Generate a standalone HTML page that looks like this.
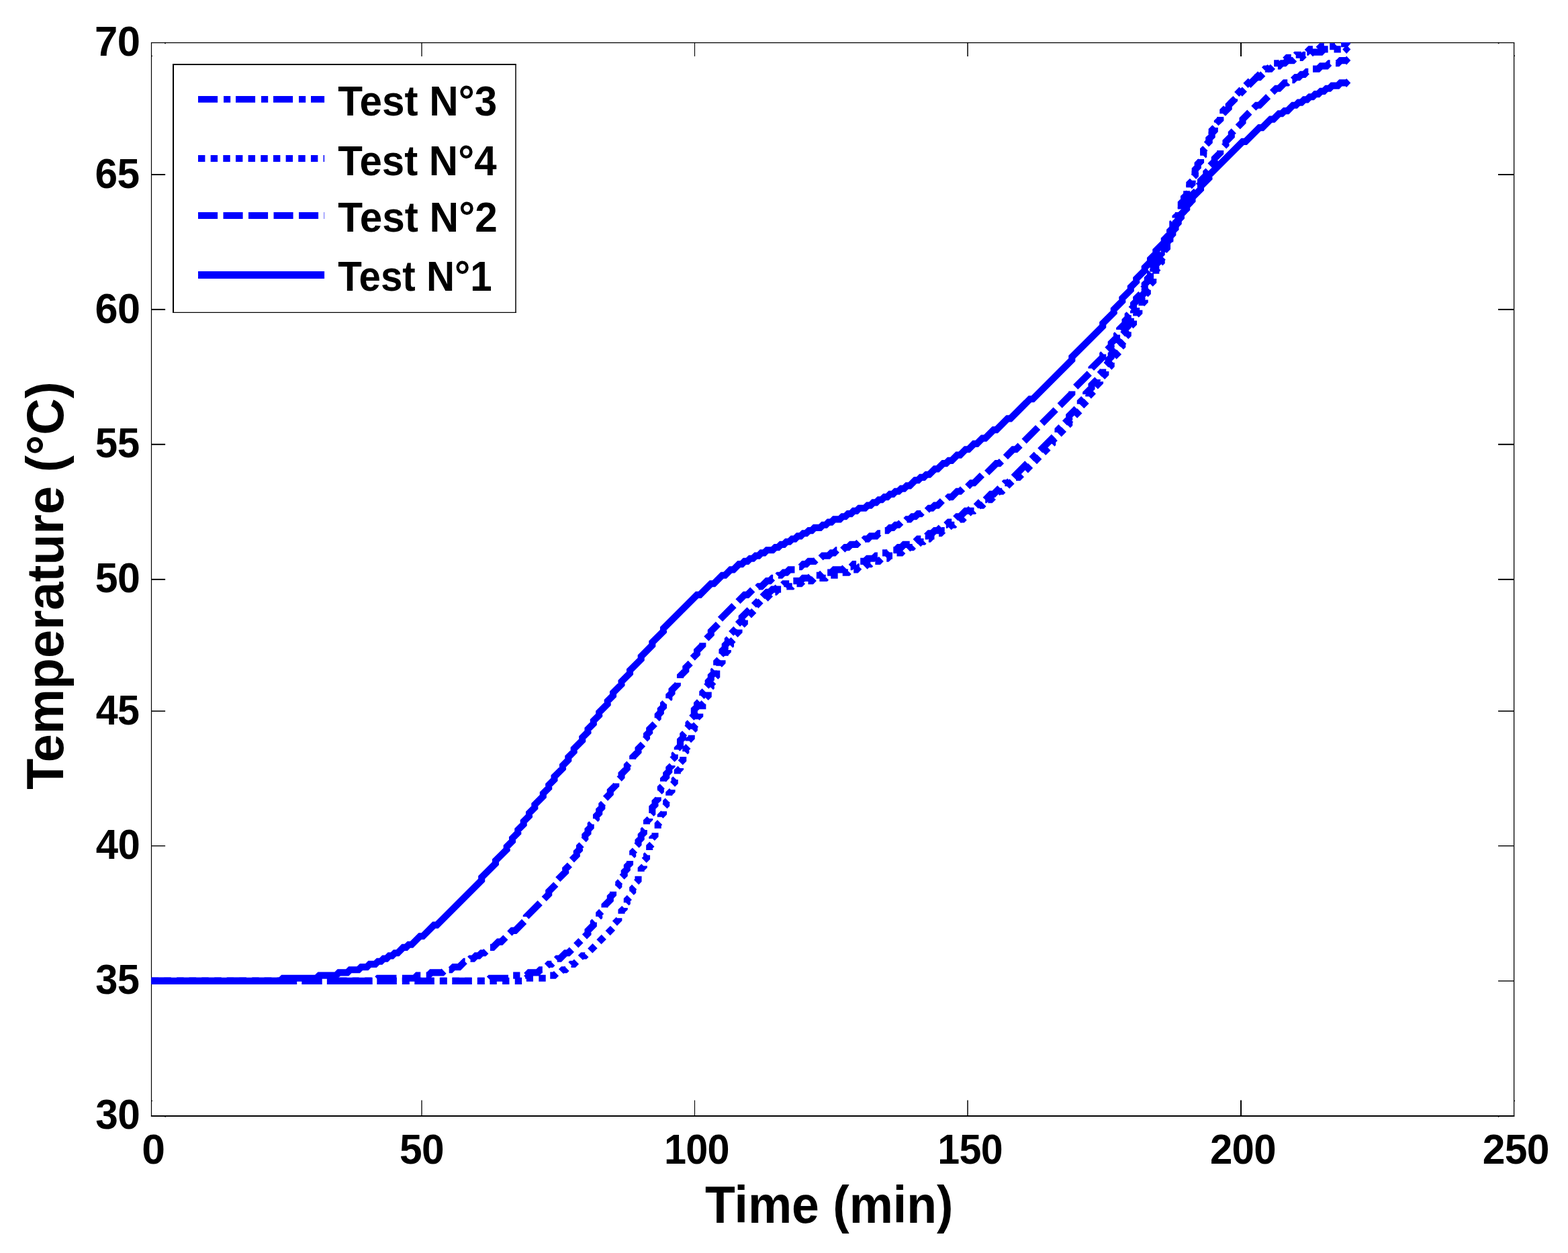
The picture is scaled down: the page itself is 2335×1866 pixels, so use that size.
<!DOCTYPE html>
<html lang="en"><head><meta charset="utf-8"><title>Temperature vs Time</title>
<style>
html,body{margin:0;padding:0;background:#fff;}
body{width:2335px;height:1866px;overflow:hidden;}
svg{display:block;position:absolute;left:0;top:0;}
text{font-family:"Liberation Sans",Arial,Helvetica,sans-serif;font-weight:bold;fill:#000;}
.cv{stroke:#0000ff;fill:none;stroke-width:10.1;stroke-linejoin:miter;stroke-linecap:butt;}
</style></head><body>
<svg width="2335" height="1866" viewBox="0 0 2335 1866">
<rect x="0" y="0" width="2335" height="1866" fill="#ffffff"/>
<defs><clipPath id="clip"><rect x="224.9" y="62.9" width="2030.3" height="1600.0"/></clipPath></defs>
<g stroke="#000" fill="none">
<line x1="224.90" y1="63.60" x2="2255.25" y2="63.60" stroke-width="1.3"/>
<line x1="224.90" y1="1661.90" x2="2255.25" y2="1661.90" stroke-width="2"/>
<line x1="225.50" y1="63.60" x2="225.50" y2="1662.90" stroke-width="1.2"/>
<line x1="2254.60" y1="63.60" x2="2254.60" y2="1662.90" stroke-width="1.3"/>
<line x1="628.00" y1="1661.90" x2="628.00" y2="1638.50" stroke-width="1.3"/>
<line x1="628.00" y1="63.60" x2="628.00" y2="83.90" stroke-width="1.3"/>
<line x1="1034.50" y1="1661.90" x2="1034.50" y2="1638.50" stroke-width="1.1"/>
<line x1="1034.50" y1="63.60" x2="1034.50" y2="83.90" stroke-width="1.1"/>
<line x1="1441.00" y1="1661.90" x2="1441.00" y2="1638.50" stroke-width="1.5"/>
<line x1="1441.00" y1="63.60" x2="1441.00" y2="83.90" stroke-width="1.5"/>
<line x1="1848.00" y1="1661.90" x2="1848.00" y2="1638.50" stroke-width="2"/>
<line x1="1848.00" y1="63.60" x2="1848.00" y2="83.90" stroke-width="2"/>
<line x1="225.50" y1="260.00" x2="246.10" y2="260.00" stroke-width="2"/>
<line x1="2254.60" y1="260.00" x2="2231.00" y2="260.00" stroke-width="2"/>
<line x1="225.50" y1="460.90" x2="246.10" y2="460.90" stroke-width="2"/>
<line x1="2254.60" y1="460.90" x2="2231.00" y2="460.90" stroke-width="2"/>
<line x1="225.50" y1="661.80" x2="246.10" y2="661.80" stroke-width="2"/>
<line x1="2254.60" y1="661.80" x2="2231.00" y2="661.80" stroke-width="2"/>
<line x1="225.50" y1="862.90" x2="246.10" y2="862.90" stroke-width="2"/>
<line x1="2254.60" y1="862.90" x2="2231.00" y2="862.90" stroke-width="2"/>
<line x1="225.50" y1="1059.00" x2="246.10" y2="1059.00" stroke-width="1.6"/>
<line x1="2254.60" y1="1059.00" x2="2231.00" y2="1059.00" stroke-width="1.6"/>
<line x1="225.50" y1="1259.70" x2="246.10" y2="1259.70" stroke-width="1.4"/>
<line x1="2254.60" y1="1259.70" x2="2231.00" y2="1259.70" stroke-width="1.4"/>
<line x1="225.50" y1="1460.90" x2="246.10" y2="1460.90" stroke-width="1.4"/>
<line x1="2254.60" y1="1460.90" x2="2231.00" y2="1460.90" stroke-width="1.4"/>
</g>
<g fill="#000">
<rect x="245.20" y="63.60" width="1.6" height="1.6"/>
<rect x="225.20" y="82.60" width="1.6" height="1.6"/>
<rect x="2230.80" y="63.60" width="1.6" height="1.6"/>
<rect x="2254.30" y="82.30" width="1.6" height="1.6"/>
<rect x="245.20" y="1662.10" width="1.6" height="1.6"/>
<rect x="225.20" y="1638.60" width="1.6" height="1.6"/>
<rect x="2230.80" y="1662.10" width="1.6" height="1.6"/>
<rect x="2254.30" y="1638.60" width="1.6" height="1.6"/>
</g>
<g clip-path="url(#clip)">
<path class="cv" d="M225.6 1460.9 L725.5 1460.9 L729.7 1456.7 L758.8 1456.7 L763.0 1452.6 L783.8 1452.6 L788.0 1448.4 L800.5 1448.4 L804.7 1444.2 L808.8 1444.2 L817.2 1435.9 L821.3 1435.9 L829.7 1427.6 L833.8 1427.6 L842.2 1419.2 L846.3 1419.2 L875.5 1390.1 L875.5 1385.9 L883.8 1377.6 L883.8 1373.4 L892.2 1365.1 L892.2 1360.9 L900.5 1352.6 L900.5 1348.4 L908.8 1340.1 L908.8 1335.9 L913.0 1331.7 L913.0 1327.6 L921.3 1319.2 L921.3 1315.1 L925.5 1310.9 L925.5 1306.7 L929.7 1302.6 L929.7 1298.4 L933.8 1294.2 L933.8 1290.1 L938.0 1285.9 L938.0 1277.6 L942.2 1273.4 L942.2 1269.2 L946.3 1265.1 L946.3 1260.9 L950.5 1256.7 L950.5 1252.6 L954.7 1248.4 L954.7 1244.2 L958.8 1240.1 L958.8 1235.9 L963.0 1231.7 L963.0 1223.4 L967.2 1219.2 L967.2 1215.1 L971.3 1210.9 L971.3 1202.6 L975.5 1198.4 L975.5 1194.2 L979.7 1190.1 L979.7 1181.7 L983.8 1177.6 L983.8 1173.4 L988.0 1169.2 L988.0 1160.9 L992.2 1156.7 L992.2 1152.6 L996.3 1148.4 L996.3 1144.2 L1000.5 1140.1 L1000.5 1131.7 L1004.7 1127.6 L1004.7 1123.4 L1008.8 1119.2 L1008.8 1115.1 L1013.0 1110.9 L1013.0 1102.6 L1017.2 1098.4 L1017.2 1094.2 L1021.3 1090.1 L1021.3 1085.9 L1025.5 1081.7 L1025.5 1077.6 L1029.7 1073.4 L1029.7 1069.2 L1033.8 1065.1 L1033.8 1056.7 L1038.0 1052.6 L1038.0 1048.4 L1042.2 1044.2 L1042.2 1040.1 L1046.3 1035.9 L1046.3 1031.7 L1050.5 1027.6 L1050.5 1023.4 L1054.7 1019.2 L1054.7 1015.1 L1058.8 1010.9 L1058.8 1006.7 L1063.0 1002.6 L1063.0 998.4 L1067.2 994.2 L1067.2 985.9 L1071.3 981.7 L1071.3 977.6 L1075.5 973.4 L1075.5 969.2 L1079.7 965.1 L1079.7 960.9 L1083.8 956.7 L1083.8 952.6 L1088.0 948.4 L1088.0 944.2 L1096.3 935.9 L1096.3 931.7 L1104.7 923.4 L1104.7 919.2 L1142.2 881.7 L1146.3 881.7 L1150.5 877.6 L1154.7 877.6 L1158.8 873.4 L1163.0 873.4 L1167.2 869.2 L1175.5 869.2 L1179.7 865.1 L1192.2 865.1 L1196.3 860.9 L1204.7 860.9 L1208.8 856.7 L1221.3 856.7 L1225.5 852.6 L1238.0 852.6 L1242.2 848.4 L1254.7 848.4 L1258.8 844.2 L1267.2 844.2 L1271.3 840.1 L1275.5 840.1 L1279.7 835.9 L1288.0 835.9 L1292.2 831.7 L1300.5 831.7 L1304.7 827.6 L1308.8 827.6 L1313.0 823.4 L1321.3 823.4 L1325.5 819.2 L1333.8 819.2 L1338.0 815.1 L1342.2 815.1 L1346.3 810.9 L1354.7 810.9 L1358.8 806.7 L1363.0 806.7 L1367.2 802.6 L1371.3 802.6 L1375.5 798.4 L1379.7 798.4 L1383.8 794.2 L1388.0 794.2 L1392.2 790.1 L1396.3 790.1 L1404.7 781.7 L1408.8 781.7 L1413.0 777.6 L1417.2 777.6 L1425.5 769.2 L1429.7 769.2 L1438.0 760.9 L1442.2 760.9 L1446.3 756.7 L1450.5 756.7 L1463.0 744.2 L1467.2 744.2 L1475.5 735.9 L1479.7 735.9 L1496.3 719.2 L1500.5 719.2 L1575.5 644.2 L1575.5 640.1 L1592.2 623.4 L1592.2 619.2 L1608.8 602.6 L1608.8 598.4 L1617.2 590.1 L1617.2 585.9 L1625.5 577.6 L1625.5 573.4 L1633.8 565.1 L1633.8 560.9 L1642.2 552.6 L1642.2 548.4 L1650.5 540.1 L1650.5 535.9 L1654.7 531.7 L1654.7 527.6 L1663.0 519.2 L1663.0 515.1 L1667.2 510.9 L1667.2 506.7 L1671.3 502.6 L1671.3 498.4 L1675.5 494.2 L1675.5 490.1 L1679.7 485.9 L1679.7 481.7 L1683.8 477.6 L1683.8 473.4 L1688.0 469.2 L1688.0 465.1 L1692.2 460.9 L1692.2 456.7 L1696.3 452.6 L1696.3 448.4 L1700.5 444.2 L1700.5 440.1 L1704.7 435.9 L1704.7 431.7 L1708.8 427.6 L1708.8 419.2 L1713.0 415.1 L1713.0 410.9 L1717.2 406.7 L1717.2 402.6 L1721.3 398.4 L1721.3 394.2 L1725.5 390.1 L1725.5 381.7 L1729.7 377.6 L1729.7 373.4 L1733.8 369.2 L1733.8 365.1 L1738.0 360.9 L1738.0 352.6 L1742.2 348.4 L1742.2 344.2 L1746.3 340.1 L1746.3 331.7 L1750.5 327.6 L1750.5 323.4 L1754.7 319.2 L1754.7 315.1 L1758.8 310.9 L1758.8 302.6 L1763.0 298.4 L1763.0 294.2 L1767.2 290.1 L1767.2 281.7 L1771.3 277.6 L1771.3 273.4 L1775.5 269.2 L1775.5 265.1 L1779.7 260.9 L1779.7 252.6 L1783.8 248.4 L1783.8 244.2 L1788.0 240.1 L1788.0 235.9 L1792.2 231.7 L1792.2 223.4 L1796.3 219.2 L1796.3 215.1 L1800.5 210.9 L1800.5 206.7 L1804.7 202.6 L1804.7 198.4 L1808.8 194.2 L1808.8 190.1 L1813.0 185.9 L1813.0 181.7 L1817.2 177.6 L1817.2 173.4 L1829.7 160.9 L1829.7 156.7 L1871.3 115.1 L1875.5 115.1 L1888.0 102.6 L1892.2 102.6 L1896.3 98.4 L1904.7 98.4 L1908.8 94.2 L1913.0 94.2 L1917.2 90.1 L1925.5 90.1 L1929.7 85.9 L1938.0 85.9 L1942.2 81.7 L1950.5 81.7 L1954.7 77.6 L1967.2 77.6 L1971.3 73.4 L2005.7 73.4" stroke-dasharray="29.1 8.9 10.2 7.8"/>
<polygon fill="#0000ff" points="1999.2,73.4 2005.2,66.9 2011.3,73.4 2005.2,79.9"/>
<path class="cv" d="M225.6 1460.9 L779.7 1460.9 L783.8 1456.7 L813.0 1456.7 L817.2 1452.6 L825.5 1452.6 L829.7 1448.4 L833.8 1448.4 L838.0 1444.2 L842.2 1444.2 L850.5 1435.9 L854.7 1435.9 L867.2 1423.4 L871.3 1423.4 L913.0 1381.7 L913.0 1377.6 L921.3 1369.2 L921.3 1365.1 L925.5 1360.9 L925.5 1356.7 L929.7 1352.6 L929.7 1348.4 L933.8 1344.2 L933.8 1340.1 L938.0 1335.9 L938.0 1331.7 L942.2 1327.6 L942.2 1323.4 L946.3 1319.2 L946.3 1315.1 L950.5 1310.9 L950.5 1302.6 L954.7 1298.4 L954.7 1294.2 L958.8 1290.1 L958.8 1281.7 L963.0 1277.6 L963.0 1273.4 L967.2 1269.2 L967.2 1260.9 L971.3 1256.7 L971.3 1248.4 L975.5 1244.2 L975.5 1240.1 L979.7 1235.9 L979.7 1227.6 L983.8 1223.4 L983.8 1215.1 L988.0 1210.9 L988.0 1202.6 L992.2 1198.4 L992.2 1194.2 L996.3 1190.1 L996.3 1181.7 L1000.5 1177.6 L1000.5 1169.2 L1004.7 1165.1 L1004.7 1160.9 L1008.8 1156.7 L1008.8 1148.4 L1013.0 1144.2 L1013.0 1135.9 L1017.2 1131.7 L1017.2 1123.4 L1021.3 1119.2 L1021.3 1115.1 L1025.5 1110.9 L1025.5 1102.6 L1029.7 1098.4 L1029.7 1090.1 L1033.8 1085.9 L1033.8 1081.7 L1038.0 1077.6 L1038.0 1069.2 L1042.2 1065.1 L1042.2 1060.9 L1046.3 1056.7 L1046.3 1048.4 L1050.5 1044.2 L1050.5 1040.1 L1054.7 1035.9 L1054.7 1027.6 L1058.8 1023.4 L1058.8 1019.2 L1063.0 1015.1 L1063.0 1010.9 L1067.2 1006.7 L1067.2 998.4 L1071.3 994.2 L1071.3 990.1 L1075.5 985.9 L1075.5 981.7 L1079.7 977.6 L1079.7 973.4 L1083.8 969.2 L1083.8 965.1 L1088.0 960.9 L1088.0 956.7 L1092.2 952.6 L1092.2 948.4 L1100.5 940.1 L1100.5 935.9 L1108.8 927.6 L1108.8 923.4 L1125.5 906.7 L1125.5 902.6 L1133.8 894.2 L1138.0 894.2 L1150.5 881.7 L1154.7 881.7 L1158.8 877.6 L1167.2 877.6 L1171.3 873.4 L1179.7 873.4 L1183.8 869.2 L1192.2 869.2 L1196.3 865.1 L1208.8 865.1 L1213.0 860.9 L1229.7 860.9 L1233.8 856.7 L1250.5 856.7 L1254.7 852.6 L1263.0 852.6 L1267.2 848.4 L1275.5 848.4 L1279.7 844.2 L1288.0 844.2 L1292.2 840.1 L1296.3 840.1 L1300.5 835.9 L1308.8 835.9 L1313.0 831.7 L1321.3 831.7 L1325.5 827.6 L1329.7 827.6 L1333.8 823.4 L1342.2 823.4 L1346.3 819.2 L1350.5 819.2 L1354.7 815.1 L1358.8 815.1 L1363.0 810.9 L1367.2 810.9 L1371.3 806.7 L1375.5 806.7 L1379.7 802.6 L1383.8 802.6 L1388.0 798.4 L1392.2 798.4 L1396.3 794.2 L1400.5 794.2 L1404.7 790.1 L1408.8 790.1 L1417.2 781.7 L1421.3 781.7 L1429.7 773.4 L1433.8 773.4 L1446.3 760.9 L1450.5 760.9 L1458.8 752.6 L1463.0 752.6 L1471.3 744.2 L1475.5 744.2 L1488.0 731.7 L1492.2 731.7 L1513.0 710.9 L1517.2 710.9 L1567.2 660.9 L1567.2 656.7 L1592.2 631.7 L1592.2 627.6 L1608.8 610.9 L1608.8 606.7 L1621.3 594.2 L1621.3 590.1 L1629.7 581.7 L1629.7 577.6 L1638.0 569.2 L1638.0 565.1 L1646.3 556.7 L1646.3 552.6 L1654.7 544.2 L1654.7 540.1 L1658.8 535.9 L1658.8 531.7 L1667.2 523.4 L1667.2 519.2 L1671.3 515.1 L1671.3 510.9 L1675.5 506.7 L1675.5 502.6 L1679.7 498.4 L1679.7 494.2 L1683.8 490.1 L1683.8 485.9 L1688.0 481.7 L1688.0 477.6 L1692.2 473.4 L1692.2 469.2 L1696.3 465.1 L1696.3 460.9 L1700.5 456.7 L1700.5 452.6 L1704.7 448.4 L1704.7 440.1 L1708.8 435.9 L1708.8 431.7 L1713.0 427.6 L1713.0 423.4 L1717.2 419.2 L1717.2 415.1 L1721.3 410.9 L1721.3 402.6 L1725.5 398.4 L1725.5 394.2 L1729.7 390.1 L1729.7 385.9 L1733.8 381.7 L1733.8 373.4 L1738.0 369.2 L1738.0 365.1 L1742.2 360.9 L1742.2 352.6 L1746.3 348.4 L1746.3 344.2 L1750.5 340.1 L1750.5 331.7 L1754.7 327.6 L1754.7 323.4 L1758.8 319.2 L1758.8 310.9 L1763.0 306.7 L1763.0 302.6 L1767.2 298.4 L1767.2 290.1 L1771.3 285.9 L1771.3 277.6 L1775.5 273.4 L1775.5 265.1 L1779.7 260.9 L1779.7 256.7 L1783.8 252.6 L1783.8 244.2 L1788.0 240.1 L1788.0 235.9 L1792.2 231.7 L1792.2 223.4 L1796.3 219.2 L1796.3 215.1 L1800.5 210.9 L1800.5 206.7 L1804.7 202.6 L1804.7 194.2 L1808.8 190.1 L1808.8 185.9 L1817.2 177.6 L1817.2 173.4 L1821.3 169.2 L1821.3 165.1 L1838.0 148.4 L1838.0 144.2 L1867.2 115.1 L1871.3 115.1 L1883.8 102.6 L1888.0 102.6 L1896.3 94.2 L1904.7 94.2 L1908.8 90.1 L1913.0 90.1 L1917.2 85.9 L1925.5 85.9 L1929.7 81.7 L1938.0 81.7 L1942.2 77.6 L1946.3 77.6 L1950.5 73.4 L1963.0 73.4 L1967.2 69.2 L1988.0 69.2 L1992.2 65.1 L2005.7 65.1" stroke-dasharray="10.4 8.26"/>
<polygon fill="#0000ff" points="1999.2,65.1 2005.2,58.6 2011.3,65.1 2005.2,71.6"/>
<path class="cv" d="M225.6 1460.9 L558.8 1460.9 L563.0 1456.7 L617.2 1456.7 L621.3 1452.6 L638.0 1452.6 L642.2 1448.4 L658.8 1448.4 L663.0 1444.2 L671.3 1444.2 L675.5 1440.1 L683.8 1440.1 L692.2 1431.7 L696.3 1431.7 L700.5 1427.6 L704.7 1427.6 L708.8 1423.4 L713.0 1423.4 L717.2 1419.2 L721.3 1419.2 L729.7 1410.9 L733.8 1410.9 L742.2 1402.6 L746.3 1402.6 L763.0 1385.9 L767.2 1385.9 L783.8 1369.2 L783.8 1365.1 L817.2 1331.7 L817.2 1327.6 L829.7 1315.1 L829.7 1310.9 L842.2 1298.4 L842.2 1294.2 L850.5 1285.9 L850.5 1281.7 L858.8 1273.4 L858.8 1269.2 L863.0 1265.1 L863.0 1260.9 L867.2 1256.7 L867.2 1252.6 L871.3 1248.4 L871.3 1244.2 L875.5 1240.1 L875.5 1235.9 L879.7 1231.7 L879.7 1227.6 L888.0 1219.2 L888.0 1215.1 L892.2 1210.9 L892.2 1206.7 L896.3 1202.6 L896.3 1198.4 L900.5 1194.2 L900.5 1190.1 L908.8 1181.7 L908.8 1177.6 L917.2 1169.2 L917.2 1165.1 L925.5 1156.7 L925.5 1152.6 L933.8 1144.2 L933.8 1140.1 L942.2 1131.7 L942.2 1127.6 L950.5 1119.2 L950.5 1115.1 L958.8 1106.7 L958.8 1102.6 L963.0 1098.4 L963.0 1094.2 L967.2 1090.1 L967.2 1085.9 L975.5 1077.6 L975.5 1073.4 L979.7 1069.2 L979.7 1065.1 L983.8 1060.9 L983.8 1056.7 L988.0 1052.6 L988.0 1048.4 L996.3 1040.1 L996.3 1035.9 L1000.5 1031.7 L1000.5 1027.6 L1008.8 1019.2 L1008.8 1015.1 L1013.0 1010.9 L1013.0 1006.7 L1021.3 998.4 L1021.3 994.2 L1029.7 985.9 L1029.7 981.7 L1038.0 973.4 L1038.0 969.2 L1046.3 960.9 L1046.3 956.7 L1058.8 944.2 L1058.8 940.1 L1071.3 927.6 L1071.3 923.4 L1108.8 885.9 L1113.0 885.9 L1121.3 877.6 L1125.5 877.6 L1129.7 873.4 L1133.8 873.4 L1142.2 865.1 L1146.3 865.1 L1150.5 860.9 L1154.7 860.9 L1158.8 856.7 L1163.0 856.7 L1167.2 852.6 L1171.3 852.6 L1175.5 848.4 L1183.8 848.4 L1188.0 844.2 L1192.2 844.2 L1196.3 840.1 L1200.5 840.1 L1204.7 835.9 L1213.0 835.9 L1217.2 831.7 L1221.3 831.7 L1225.5 827.6 L1233.8 827.6 L1238.0 823.4 L1242.2 823.4 L1246.3 819.2 L1254.7 819.2 L1258.8 815.1 L1263.0 815.1 L1267.2 810.9 L1275.5 810.9 L1279.7 806.7 L1283.8 806.7 L1288.0 802.6 L1292.2 802.6 L1296.3 798.4 L1304.7 798.4 L1308.8 794.2 L1313.0 794.2 L1317.2 790.1 L1321.3 790.1 L1325.5 785.9 L1329.7 785.9 L1333.8 781.7 L1338.0 781.7 L1342.2 777.6 L1346.3 777.6 L1350.5 773.4 L1354.7 773.4 L1358.8 769.2 L1363.0 769.2 L1367.2 765.1 L1371.3 765.1 L1375.5 760.9 L1379.7 760.9 L1383.8 756.7 L1388.0 756.7 L1392.2 752.6 L1396.3 752.6 L1404.7 744.2 L1408.8 744.2 L1413.0 740.1 L1417.2 740.1 L1425.5 731.7 L1429.7 731.7 L1433.8 727.6 L1438.0 727.6 L1446.3 719.2 L1450.5 719.2 L1463.0 706.7 L1467.2 706.7 L1483.8 690.1 L1488.0 690.1 L1508.8 669.2 L1513.0 669.2 L1596.3 585.9 L1596.3 581.7 L1625.5 552.6 L1625.5 548.4 L1642.2 531.7 L1642.2 527.6 L1654.7 515.1 L1654.7 510.9 L1663.0 502.6 L1663.0 498.4 L1667.2 494.2 L1667.2 490.1 L1675.5 481.7 L1675.5 477.6 L1679.7 473.4 L1679.7 469.2 L1683.8 465.1 L1683.8 460.9 L1688.0 456.7 L1688.0 452.6 L1692.2 448.4 L1692.2 444.2 L1700.5 435.9 L1700.5 431.7 L1704.7 427.6 L1704.7 423.4 L1708.8 419.2 L1708.8 415.1 L1713.0 410.9 L1713.0 406.7 L1717.2 402.6 L1717.2 398.4 L1721.3 394.2 L1721.3 390.1 L1725.5 385.9 L1725.5 381.7 L1729.7 377.6 L1729.7 373.4 L1738.0 365.1 L1738.0 360.9 L1742.2 356.7 L1742.2 352.6 L1746.3 348.4 L1746.3 344.2 L1750.5 340.1 L1750.5 335.9 L1754.7 331.7 L1754.7 327.6 L1758.8 323.4 L1758.8 319.2 L1767.2 310.9 L1767.2 306.7 L1771.3 302.6 L1771.3 298.4 L1775.5 294.2 L1775.5 290.1 L1783.8 281.7 L1783.8 277.6 L1788.0 273.4 L1788.0 269.2 L1796.3 260.9 L1796.3 256.7 L1800.5 252.6 L1800.5 248.4 L1808.8 240.1 L1808.8 235.9 L1817.2 227.6 L1817.2 223.4 L1825.5 215.1 L1825.5 210.9 L1833.8 202.6 L1833.8 198.4 L1850.5 181.7 L1850.5 177.6 L1871.3 156.7 L1875.5 156.7 L1900.5 131.7 L1904.7 131.7 L1913.0 123.4 L1917.2 123.4 L1921.3 119.2 L1925.5 119.2 L1929.7 115.1 L1933.8 115.1 L1938.0 110.9 L1942.2 110.9 L1946.3 106.7 L1950.5 106.7 L1954.7 102.6 L1963.0 102.6 L1967.2 98.4 L1975.5 98.4 L1979.7 94.2 L1992.2 94.2 L1996.3 90.1 L2005.7 90.1" stroke-dasharray="29.1 8.4"/>
<polygon fill="#0000ff" points="1999.2,90.1 2005.2,83.6 2011.3,90.1 2005.2,96.6"/>
<path class="cv" d="M225.6 1460.9 L417.2 1460.9 L421.3 1456.7 L471.3 1456.7 L475.5 1452.6 L500.5 1452.6 L504.7 1448.4 L517.2 1448.4 L521.3 1444.2 L533.8 1444.2 L538.0 1440.1 L546.3 1440.1 L550.5 1435.9 L558.8 1435.9 L563.0 1431.7 L567.2 1431.7 L571.3 1427.6 L575.5 1427.6 L579.7 1423.4 L583.8 1423.4 L588.0 1419.2 L592.2 1419.2 L600.5 1410.9 L604.7 1410.9 L608.8 1406.7 L613.0 1406.7 L625.5 1394.2 L629.7 1394.2 L646.3 1377.6 L650.5 1377.6 L717.2 1310.9 L717.2 1306.7 L738.0 1285.9 L738.0 1281.7 L754.7 1265.1 L754.7 1260.9 L763.0 1252.6 L763.0 1248.4 L771.3 1240.1 L771.3 1235.9 L779.7 1227.6 L779.7 1223.4 L788.0 1215.1 L788.0 1210.9 L796.3 1202.6 L796.3 1198.4 L808.8 1185.9 L808.8 1181.7 L817.2 1173.4 L817.2 1169.2 L825.5 1160.9 L825.5 1156.7 L838.0 1144.2 L838.0 1140.1 L846.3 1131.7 L846.3 1127.6 L854.7 1119.2 L854.7 1115.1 L867.2 1102.6 L867.2 1098.4 L875.5 1090.1 L875.5 1085.9 L883.8 1077.6 L883.8 1073.4 L892.2 1065.1 L892.2 1060.9 L904.7 1048.4 L904.7 1044.2 L913.0 1035.9 L913.0 1031.7 L925.5 1019.2 L925.5 1015.1 L938.0 1002.6 L938.0 998.4 L954.7 981.7 L954.7 977.6 L971.3 960.9 L971.3 956.7 L988.0 940.1 L988.0 935.9 L1038.0 885.9 L1042.2 885.9 L1058.8 869.2 L1063.0 869.2 L1075.5 856.7 L1079.7 856.7 L1088.0 848.4 L1092.2 848.4 L1100.5 840.1 L1104.7 840.1 L1108.8 835.9 L1113.0 835.9 L1117.2 831.7 L1121.3 831.7 L1125.5 827.6 L1129.7 827.6 L1133.8 823.4 L1138.0 823.4 L1142.2 819.2 L1150.5 819.2 L1154.7 815.1 L1158.8 815.1 L1163.0 810.9 L1167.2 810.9 L1171.3 806.7 L1175.5 806.7 L1179.7 802.6 L1183.8 802.6 L1188.0 798.4 L1192.2 798.4 L1196.3 794.2 L1200.5 794.2 L1204.7 790.1 L1208.8 790.1 L1213.0 785.9 L1221.3 785.9 L1225.5 781.7 L1229.7 781.7 L1233.8 777.6 L1238.0 777.6 L1242.2 773.4 L1250.5 773.4 L1254.7 769.2 L1258.8 769.2 L1263.0 765.1 L1267.2 765.1 L1271.3 760.9 L1275.5 760.9 L1279.7 756.7 L1288.0 756.7 L1292.2 752.6 L1296.3 752.6 L1300.5 748.4 L1304.7 748.4 L1308.8 744.2 L1313.0 744.2 L1317.2 740.1 L1321.3 740.1 L1325.5 735.9 L1329.7 735.9 L1333.8 731.7 L1338.0 731.7 L1342.2 727.6 L1346.3 727.6 L1350.5 723.4 L1354.7 723.4 L1363.0 715.1 L1367.2 715.1 L1371.3 710.9 L1375.5 710.9 L1379.7 706.7 L1383.8 706.7 L1392.2 698.4 L1396.3 698.4 L1404.7 690.1 L1408.8 690.1 L1413.0 685.9 L1417.2 685.9 L1425.5 677.6 L1429.7 677.6 L1438.0 669.2 L1442.2 669.2 L1450.5 660.9 L1454.7 660.9 L1463.0 652.6 L1467.2 652.6 L1479.7 640.1 L1483.8 640.1 L1500.5 623.4 L1504.7 623.4 L1533.8 594.2 L1538.0 594.2 L1596.3 535.9 L1596.3 531.7 L1642.2 485.9 L1642.2 481.7 L1658.8 465.1 L1658.8 460.9 L1671.3 448.4 L1671.3 444.2 L1683.8 431.7 L1683.8 427.6 L1692.2 419.2 L1692.2 415.1 L1704.7 402.6 L1704.7 398.4 L1713.0 390.1 L1713.0 385.9 L1721.3 377.6 L1721.3 373.4 L1733.8 360.9 L1733.8 356.7 L1742.2 348.4 L1742.2 344.2 L1750.5 335.9 L1750.5 331.7 L1758.8 323.4 L1758.8 319.2 L1767.2 310.9 L1767.2 306.7 L1775.5 298.4 L1775.5 294.2 L1788.0 281.7 L1788.0 277.6 L1800.5 265.1 L1800.5 260.9 L1850.5 210.9 L1854.7 210.9 L1875.5 190.1 L1879.7 190.1 L1892.2 177.6 L1896.3 177.6 L1904.7 169.2 L1908.8 169.2 L1913.0 165.1 L1917.2 165.1 L1925.5 156.7 L1929.7 156.7 L1933.8 152.6 L1938.0 152.6 L1942.2 148.4 L1946.3 148.4 L1950.5 144.2 L1954.7 144.2 L1958.8 140.1 L1963.0 140.1 L1967.2 135.9 L1971.3 135.9 L1975.5 131.7 L1979.7 131.7 L1983.8 127.6 L1992.2 127.6 L1996.3 123.4 L2005.7 123.4"/>
<polygon fill="#0000ff" points="1999.2,123.4 2005.2,116.9 2011.3,123.4 2005.2,129.9"/>
</g>
<text transform="translate(211.35 1733.30) scale(0.9781 1)" style="font-size:63.80px;letter-spacing:-0.70px">0</text>
<text transform="translate(595.05 1733.30) scale(0.9470 1)" style="font-size:63.80px;letter-spacing:-0.70px">50</text>
<text transform="translate(988.90 1733.30) scale(0.9307 1)" style="font-size:63.80px;letter-spacing:-0.70px">100</text>
<text transform="translate(1396.30 1733.30) scale(0.9266 1)" style="font-size:63.80px;letter-spacing:-0.70px">150</text>
<text transform="translate(1801.95 1733.30) scale(0.9395 1)" style="font-size:63.80px;letter-spacing:-0.70px">200</text>
<text transform="translate(2207.80 1733.30) scale(0.9495 1)" style="font-size:63.80px;letter-spacing:-0.70px">250</text>
<text transform="translate(141.10 83.00) scale(0.9655 1)" style="font-size:63.80px;letter-spacing:-0.70px">70</text>
<text transform="translate(141.60 279.50) scale(0.9462 1)" style="font-size:63.80px;letter-spacing:-0.70px">65</text>
<text transform="translate(141.60 480.50) scale(0.9577 1)" style="font-size:63.80px;letter-spacing:-0.70px">60</text>
<text transform="translate(141.85 680.90) scale(0.9425 1)" style="font-size:63.80px;letter-spacing:-0.70px">55</text>
<text transform="translate(141.85 882.40) scale(0.9538 1)" style="font-size:63.80px;letter-spacing:-0.70px">50</text>
<text transform="translate(142.85 1078.50) scale(0.9277 1)" style="font-size:63.80px;letter-spacing:-0.70px">45</text>
<text transform="translate(142.85 1278.70) scale(0.9388 1)" style="font-size:63.80px;letter-spacing:-0.70px">40</text>
<text transform="translate(142.35 1480.20) scale(0.9351 1)" style="font-size:63.80px;letter-spacing:-0.70px">35</text>
<text transform="translate(142.35 1681.40) scale(0.9462 1)" style="font-size:63.80px;letter-spacing:-0.70px">30</text>
<text transform="translate(1050.10 1820.80) scale(0.9401 1)" style="font-size:78.00px">Time (min)</text>
<text transform="translate(94.20 1175.80) rotate(-90) scale(0.9679 1)" style="font-size:78.00px">Temperature (°C)</text>
<rect x="258.0" y="96.0" width="510.0" height="369.3" fill="#fff" stroke="none"/>
<g stroke="#000" fill="none">
<line x1="257.00" y1="96.00" x2="768.75" y2="96.00" stroke-width="2"/>
<line x1="258.00" y1="96.00" x2="258.00" y2="465.90" stroke-width="2"/>
<line x1="257.00" y1="465.30" x2="768.75" y2="465.30" stroke-width="1.2"/>
<line x1="768.00" y1="96.00" x2="768.00" y2="465.90" stroke-width="1.5"/>
</g>
<line x1="295" y1="147.9" x2="483.1" y2="147.9" stroke="#0000ff" stroke-width="9.8" stroke-dasharray="29.1 8.9 10.2 7.8"/>
<text transform="translate(503.30 171.80) scale(0.9508 1)" style="font-size:63.30px">Test N°3</text>
<line x1="295" y1="236.0" x2="483.1" y2="236.0" stroke="#0000ff" stroke-width="10" stroke-dasharray="10.4 8.26"/>
<text transform="translate(503.30 260.90) scale(0.9478 1)" style="font-size:63.30px">Test N°4</text>
<line x1="295" y1="320.9" x2="483.1" y2="320.9" stroke="#0000ff" stroke-width="10" stroke-dasharray="29.1 8.4"/>
<text transform="translate(503.30 345.00) scale(0.9530 1)" style="font-size:63.30px">Test N°2</text>
<line x1="295" y1="409.4" x2="483.1" y2="409.4" stroke="#0000ff" stroke-width="11"/>
<text transform="translate(503.30 433.00) scale(0.9204 1)" style="font-size:63.30px">Test N°1</text>
</svg>
</body></html>
